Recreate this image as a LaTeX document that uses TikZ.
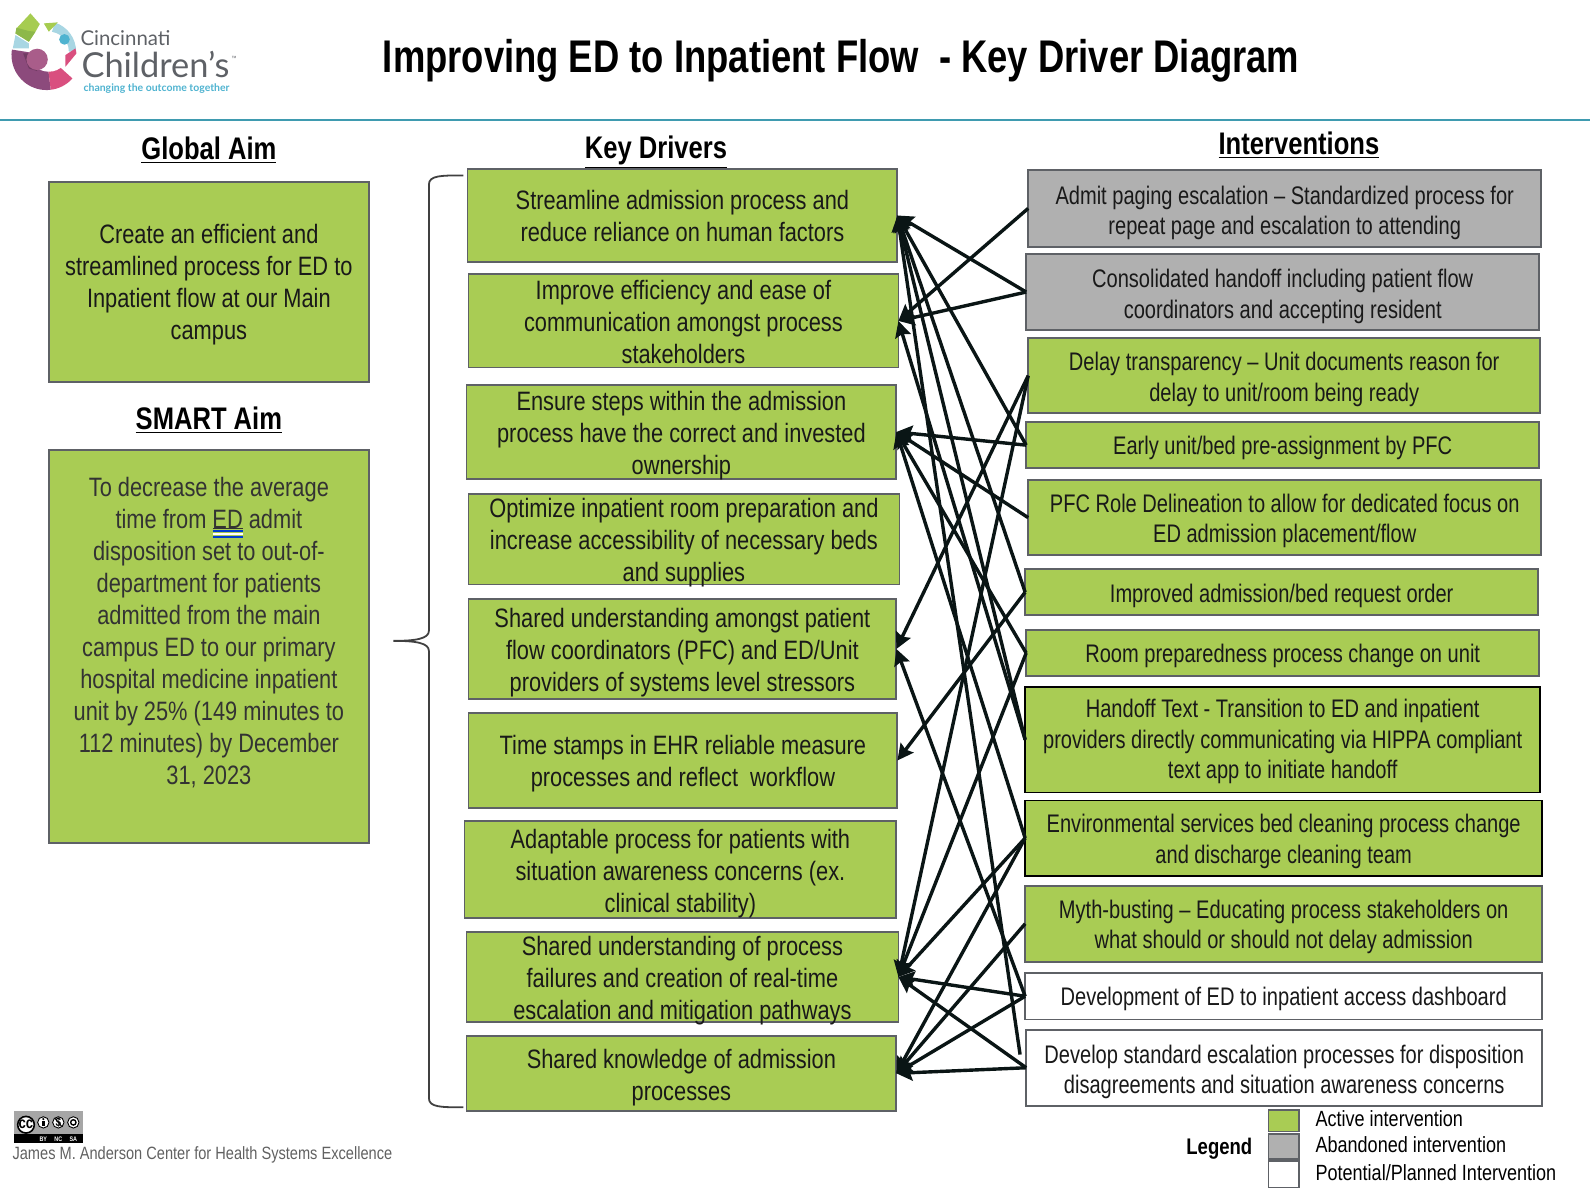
\documentclass[tikz,border=0pt]{standalone}
\usepackage{fontspec}
\usepackage{graphicx}
\setmainfont[FakeStretch=0.82]{Liberation Sans}
\newfontfamily\logofont{Lato}
\newfontfamily\ivfont[FakeStretch=0.79]{Liberation Sans}
\newfontfamily\titlefont[FakeStretch=0.795]{Liberation Sans}
\usetikzlibrary{arrows.meta}
\definecolor{act}{HTML}{A9CC54}
\definecolor{aband}{HTML}{B0B0B0}
\definecolor{edge}{HTML}{5E6166}
\definecolor{wire}{HTML}{0A1515}
\definecolor{rulec}{HTML}{3F9BB0}
\definecolor{plum}{HTML}{8C4A7C}
\definecolor{rose}{HTML}{D94F7F}
\definecolor{sky}{HTML}{A8D6E3}
\definecolor{leaf}{HTML}{A6CC50}
\definecolor{leafb}{HTML}{8DB84A}
\definecolor{logoblue}{HTML}{4FB3D0}
\definecolor{logogray}{HTML}{5E6166}
\tikzset{
 basebox/.style={draw=edge,line width=0.9pt,inner sep=0pt,outer sep=0pt,align=center,text=black!90,font=\fontsize{13.3}{16}\selectfont},
 greenbox/.style={basebox,fill=act},
 greybox/.style={basebox,fill=aband},
 whitebox/.style={basebox,fill=white},
 strongbox/.style={greenbox,draw=black},
 ivtext/.style={font=\ivfont\fontsize{12.7}{15.2}\selectfont},
 header/.style={font=\bfseries\fontsize{15.6}{18}\selectfont,inner sep=0pt},
 link/.style={draw=wire,line width=1.7pt,-{Stealth[length=8pt,width=8pt,inset=1.2pt]}},
 legendtext/.style={font=\fontsize{11}{13}\selectfont,anchor=west,inner sep=0pt},
 ccring/.style={draw=black,line width=0.45pt,fill=white},
 lbl/.style={basebox}
}
% [text shift]{name}{style}{x1}{y1}{x2}{y2}{text}
\newcommand\bx[7][3]{%
 \node[#3,minimum width={(#6-#4)*0.507pt},minimum height={(#7-#5)*0.507pt}] (#2) at ({(#4+#6)/2},{(#5+#7+1)/2}) {};
 \bxtext{#1}{#2}}
\newcommand\bxtext[3]{\node[basebox,lbl,draw=none,fill=none,yshift={-(#1)*0.507pt}] (#2t) at (#2.center) {#3};}
\newcommand\wedgeP[6]{\fill[#1] (#5,#6) -- ++(#2:#4) arc[start angle=#2,end angle=#3,radius=#4] -- cycle;}
\begin{document}
\begin{tikzpicture}[x=0.507pt,y=-0.507pt]
\useasboundingbox (0,0) rectangle (1568.05,1181.5);
% logo
\begin{scope}[shift={(43.2,51)},x=0.16667pt,y=0.16667pt]
 \wedgeP{plum}{171}{277}{105}{8}{-10}
 \wedgeP{rose}{277}{318}{105}{8}{-10}
 \wedgeP{sky}{0}{72}{92}{5}{0}
 \fill[sky] (-93,10) -- (-85,50) -- (-45,25) -- (-45,10) -- cycle;
 \fill[white] (15,0) circle[radius=60];
 \fill[rose] (65,-45) -- (98,-5) -- (95,10) -- (65,-10) -- cycle;
 \fill[leaf] (-82,70) -- (-40,115) -- (-12,83) -- (-25,60) -- (-45,30) -- (-85,55) -- cycle;
 \fill[leafb] (-85,55) -- (-82,72) -- (-45,62) -- (-25,60) -- (-45,30) -- cycle;
 \fill[leaf] (0,85) -- (42,88) -- (15,60) -- cycle;
 \fill[plum!80!black] (-62,-5) -- (-20,-5) -- (-20,-58) -- (-45,-50) -- cycle;
 \fill[plum!75!rose!90!white] (-20,-23) circle[radius=32];
 \fill[logoblue] (62,37) circle[radius=16];
\end{scope}
\node[inner sep=0pt,text=logogray,anchor=west] (logoa) at (79,38) {\logofont\resizebox{45pt}{!}{Cincinnati}};
\node[inner sep=0pt,text=logogray,anchor=west] (logob) at (80,64) {\logofont\resizebox{74pt}{!}{Children’s}};
\node[inner sep=0pt,text=logogray,anchor=west] (logoc) at (228,58) {\fontsize{3}{3}\selectfont ™};
\node[inner sep=0pt,text=logoblue,anchor=west] (logod) at (82,87.5) {\logofont\bfseries\resizebox{73pt}{!}{changing the outcome together}};
% title and rule
\node[inner sep=0pt,font=\titlefont\bfseries\fontsize{22.9}{26}\selectfont] (title) at (829.5,60) {Improving ED to Inpatient Flow~~- Key Driver Diagram};
\coordinate (ruleL) at (0,118.5);
\coordinate (ruleR) at (1568,118.5);
\draw[rulec,line width=0.9pt] (ruleL) -- (ruleR);
% headers
\node[header] (hglobal) at (206,148) {\underline{Global Aim}};
\node[header] (hsmart) at (206,414.5) {\underline{SMART Aim}};
\node[header] (hkey) at (647,150) {\underline{Key Drivers}};
\node[header] (hint) at (1281,143) {\underline{Interventions}};
% aims
\tikzset{lbl/.style={basebox}}
\bx[2.5]{global}{greenbox}{48}{179}{364}{376}{Create an efficient and\\streamlined process for ED to\\Inpatient flow at our Main\\campus}
\tikzset{lbl/.style={basebox,text=black!80}}
\bx[-13.5]{smart}{greenbox}{48}{443}{364}{831}{To decrease the average\\time from ED admit\\disposition set to out-of-\\department for patients\\admitted from the main\\campus ED to our primary\\hospital medicine inpatient\\unit by 25\% (149 minutes to\\112 minutes) by December\\31, 2023}
\coordinate (edZ) at (210,521.5);
\coordinate (edY) at (240,521.5);
\coordinate (edA) at (210,523.7);
\coordinate (edB) at (240,523.7);
\coordinate (edE) at (210,526.6);
\coordinate (edF) at (240,526.6);
\coordinate (edC) at (210,529.5);
\coordinate (edD) at (240,529.5);
\draw[black!80,line width=0.4pt] (edZ) -- (edY);
\draw[white,line width=0.9pt] (edE) -- (edF);
\draw[blue!70!cyan!80!black,line width=0.7pt] (edA) -- (edB) (edC) -- (edD);
% drivers
\tikzset{lbl/.style={basebox}}
\bx[0.5]{d1}{greenbox}{461}{166}{885}{258}{Streamline admission process and\\reduce reliance on human factors}
\bx[1.5]{d2}{greenbox}{462}{270}{886}{362}{Improve efficiency and ease of\\communication amongst process\\stakeholders}
\bx[3.5]{d3}{greenbox}{460}{379}{884}{472}{Ensure steps within the admission\\process have the correct and invested\\ownership}
\bx[3.5]{d4}{greenbox}{462}{487}{887}{576}{Optimize inpatient room preparation and\\increase accessibility of necessary beds\\and supplies}
\bx[3.5]{d5}{greenbox}{462}{590}{884}{689}{Shared understanding amongst patient\\flow coordinators (PFC) and ED/Unit\\providers of systems level stressors}
\bx[3.5]{d6}{greenbox}{462}{703}{885}{796}{Time stamps in EHR reliable measure\\processes and reflect~~workflow}
\bx[4.5]{d7}{greenbox}{458}{809}{884}{905}{Adaptable process for patients with\\situation awareness concerns (ex.\\clinical stability)}
\bx[4]{d8}{greenbox}{460}{919}{886}{1007}{Shared understanding of process\\failures and creation of real-time\\escalation and mitigation pathways}
\bx[4.5]{d9}{greenbox}{460}{1021}{884}{1095}{Shared knowledge of admission\\processes}
% interventions
\tikzset{lbl/.style={basebox,ivtext}}
\bx[4.5]{i1}{greybox}{1014}{167}{1520}{243}{Admit paging escalation – Standardized process for\\repeat page and escalation to attending}
\bx[4.5]{i2}{greybox}{1012}{250}{1518}{325}{Consolidated handoff including patient flow\\coordinators and accepting resident}
\bx[3.5]{i3}{greenbox}{1014}{333}{1519}{407}{Delay transparency – Unit documents reason for\\delay to unit/room being ready}
\bx[2.5]{i4}{greenbox}{1012}{416}{1518}{461}{Early unit/bed pre-assignment by PFC}
\bx[3.5]{i5}{greenbox}{1014}{473}{1520}{547}{PFC Role Delineation to allow for dedicated focus on\\ED admission placement/flow}
\bx[3.5]{i6}{greenbox}{1011}{561}{1517}{606}{Improved admission/bed request order}
\bx[2.5]{i7}{greenbox}{1012}{621}{1518}{666}{Room preparedness process change on unit}
\bx[2]{i8}{strongbox}{1011}{677}{1519}{781}{Handoff Text - Transition to ED and inpatient\\providers directly communicating via HIPPA compliant\\text app to initiate handoff}
\bx[3.5]{i9}{strongbox}{1011}{789}{1521}{863}{Environmental services bed cleaning process change\\and discharge cleaning team}
\bx[3]{i10}{greenbox}{1011}{873}{1521}{948}{Myth-busting – Educating process stakeholders on\\what should or should not delay admission}
\bx[2.5]{i11}{whitebox}{1011}{959}{1521}{1005}{Development of ED to inpatient access dashboard}
\bx[4]{i12}{whitebox}{1012}{1015}{1521}{1090}{Develop standard escalation processes for disposition\\disagreements and situation awareness concerns}
% connectors
\coordinate (i12b) at (1006,1040);
\draw[link] (i1.west) -- (d2.east);
\draw[link] (i2.west) -- (d1.east);
\draw[link] (i2.west) -- (d2.east);
\draw[link] (i3.west) -- (d5.east);
\draw[link] (i3.west) -- (d8.east);
\draw[link] (i4.west) -- (d1.east);
\draw[link] (i4.west) -- (d3.east);
\draw[link] (i5.west) -- (d3.east);
\draw[link] (i6.west) -- (d1.east);
\draw[link] (i6.west) -- (d6.east);
\draw[link] (i7.west) -- (d3.east);
\draw[link] (i7.west) -- (d8.east);
\draw[link] (i8.west) -- (d1.east);
\draw[link] (i8.west) -- (d2.east);
\draw[link] (i9.west) -- (d3.east);
\draw[link] (i9.west) -- (d8.east);
\draw[link] (i9.west) -- (d9.east);
\draw[link] (i10.west) -- (d9.east);
\draw[link] (i11.west) -- (d5.east);
\draw[link] (i11.west) -- (d8.east);
\draw[link] (i11.west) -- (d9.east);
\draw[link] (i12.west) -- (d8.east);
\draw[link] (i12.west) -- (d9.east);
\draw[link] (i12b) -- (d1.east);
% brace
\coordinate (brA) at (457,173);
\coordinate (brB) at (423,182);
\coordinate (brC) at (423,622);
\coordinate (brT) at (388,632);
\coordinate (brD) at (423,642);
\coordinate (brE) at (423,1083);
\coordinate (brF) at (457,1092);
\draw[black!75,line width=0.9pt] (brA) .. controls (435,173) and (423,173) .. (brB) -- (brC) .. controls (423,630) and (410,632) .. (brT) .. controls (410,632) and (423,634) .. (brD) -- (brE) .. controls (423,1092) and (435,1092) .. (brF);
% cc badge
\begin{scope}[shift={(0,1075)},x=0.16667pt,y=-0.16667pt]
 \fill[black!35] (42,63) rectangle (248,158);
 \fill[black] (42,133) rectangle (248,158);
 \draw[ccring,line width=0.8pt] (78,104) circle[radius=25];
 \draw[ccring] (130,97) circle[radius=17];
 \draw[ccring] (175,97) circle[radius=17];
 \draw[ccring] (220,97) circle[radius=17];
 \node[inner sep=0pt,font=\bfseries\fontsize{8}{8}\selectfont] (cc) at (78,103) {cc};
 \fill[black] (130,87) circle[radius=3.5];
 \fill[black] (126.5,93) rectangle (133.5,108);
 \node[inner sep=0pt,font=\bfseries\fontsize{6}{6}\selectfont] (ccd) at (175,97) {\$};
 \draw[black,line width=0.5pt] (165,85) -- (185,109);
 \draw[black,line width=0.7pt] (220,97) circle[radius=8];
 \node[inner sep=0pt,text=white,font=\bfseries\fontsize{3.3}{4}\selectfont] (ccby) at (130,146) {BY};
 \node[inner sep=0pt,text=white,font=\bfseries\fontsize{3.3}{4}\selectfont] (ccnc) at (175,146) {NC};
 \node[inner sep=0pt,text=white,font=\bfseries\fontsize{3.3}{4}\selectfont] (ccsa) at (220,146) {SA};
\end{scope}
\node[inner sep=0pt,anchor=west,text=black!62,font=\fontsize{8.9}{12}\selectfont] (anderson) at (12,1139) {James M. Anderson Center for Health Systems Excellence};
% legend
\node[inner sep=0pt,font=\bfseries\fontsize{11.3}{13}\selectfont] (legend) at (1202.5,1133) {Legend};
\node[greenbox,minimum width=15.2pt,minimum height=10.6pt] (la) at (1266,1105.5) {};
\node[greybox,minimum width=15.2pt,minimum height=12.7pt] (lb) at (1266,1130.5) {};
\node[whitebox,minimum width=15.2pt,minimum height=13.2pt] (lc) at (1266,1158) {};
\node[legendtext] (lta) at (1297,1103) {Active intervention};
\node[legendtext] (ltb) at (1297,1129) {Abandoned intervention};
\node[legendtext] (ltc) at (1297,1156) {Potential/Planned Intervention};
\end{tikzpicture}
\end{document}
